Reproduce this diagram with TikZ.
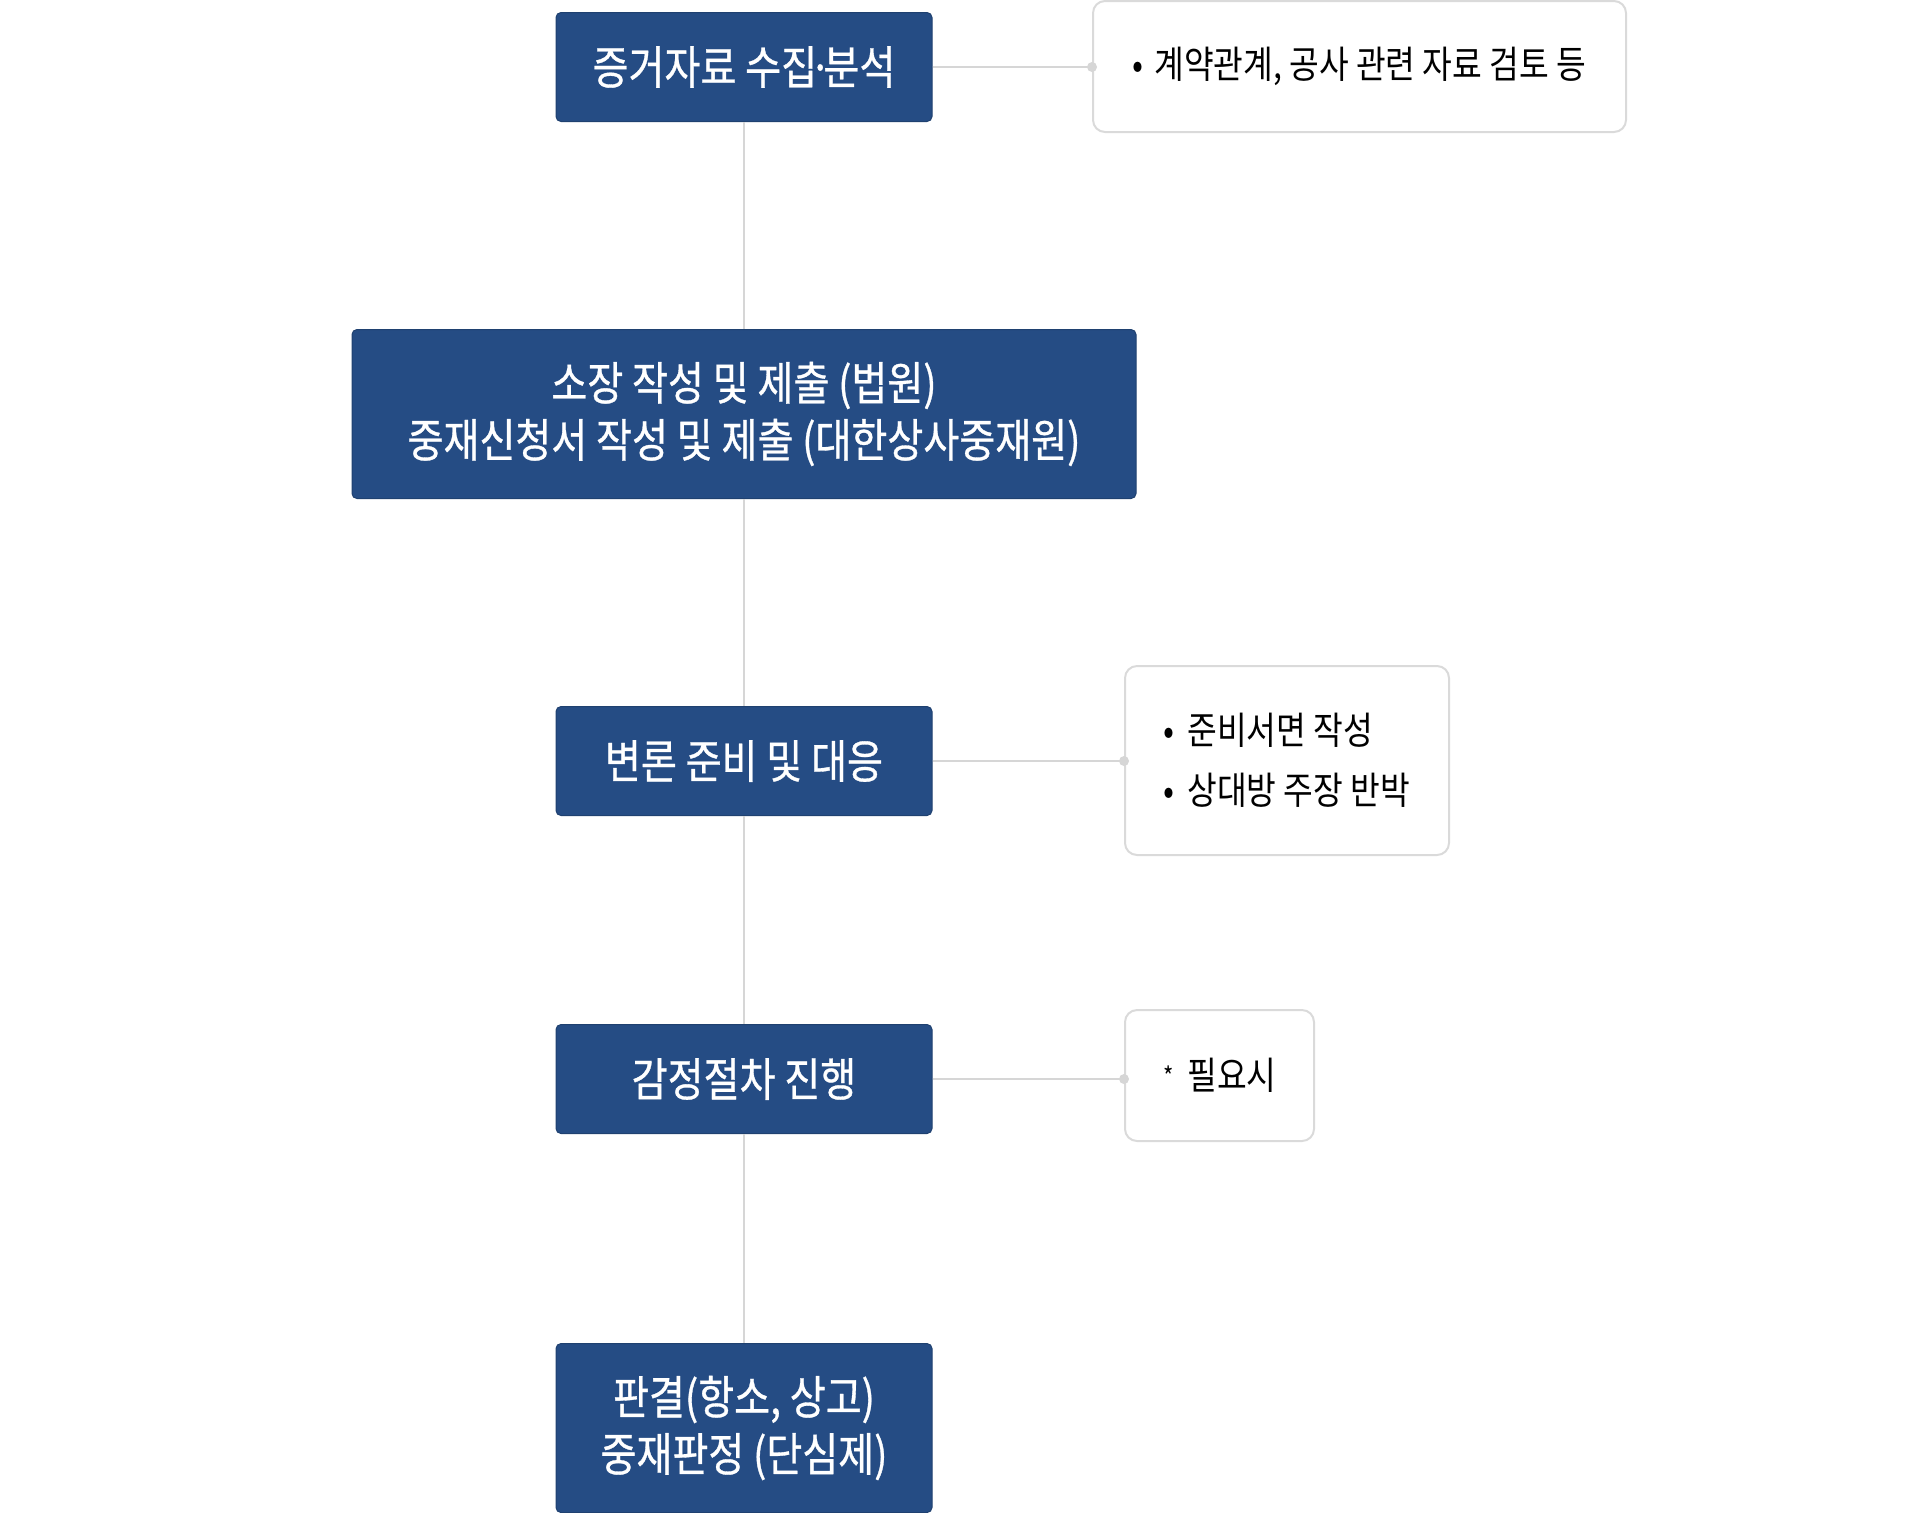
\documentclass[tikz,border=0pt]{standalone}
\usepackage{fontspec}
\newfontfamily\kr[FakeStretch=0.85]{Noto Sans CJK KR}
\newfontfamily\krm[FakeStretch=0.85,FakeBold=0.7]{Noto Sans CJK KR}
\definecolor{boxblue}{HTML}{254C84}
\definecolor{notegray}{HTML}{DADADA}
\definecolor{linegray}{HTML}{D6D6D6}
\begin{document}
\begin{tikzpicture}[x=0.5pt,y=-0.5pt,
  stepbox/.style={fill=boxblue, draw=boxblue!85!black, line width=0.5pt, rounded corners=2.5pt,
    text=white, align=center, font=\krm\fontsize{23}{28.5}\selectfont,
    minimum width=188pt, minimum height=54.5pt, inner sep=0pt},
  notebox/.style={draw=notegray, line width=1pt, fill=white, rounded corners=6pt, inner sep=0pt},
  notetext/.style={anchor=west, inner sep=0pt, font=\kr\fontsize{19}{29}\selectfont, text=black, align=left},
  conn/.style={draw=linegray, line width=1.1pt},
  dot/.style={circle, fill=linegray, inner sep=0pt, minimum size=5pt}]
\useasboundingbox (0,0) rectangle (1920,1512);

% main steps
\node[stepbox] (b1) at (744,67) {증거자료 수집\kern-0.17em·\kern-0.17em분석};
\node[stepbox, minimum width=392pt, minimum height=84.5pt] (b2) at (744,414) {소장 작성 및 제출 (법원)\\중재신청서 작성 및 제출 (대한상사중재원)};
\node[stepbox] (b3) at (744,761) {변론 준비 및 대응};
\node[stepbox] (b4) at (744,1079) {감정절차 진행};
\node[stepbox, minimum height=84.5pt] (b5) at (744,1428) {판결(항소, 상고)\\중재판정 (단심제)};

% notes
\node[notebox, minimum width=266.5pt, minimum height=65.5pt] (n1) at (1359.5,66.5) {};
\node[notetext] (t1) at (1132,66) {\makebox[11pt][l]{•}계약관계, 공사 관련 자료 검토 등};

\node[notebox, minimum width=162pt, minimum height=94.5pt] (n3) at (1287,760.5) {};
\node[notetext] (t3) at (1163,760) {\makebox[12pt][l]{•}준비서면 작성\\[1pt]\makebox[12pt][l]{•}상대방 주장 반박};

\node[notebox, minimum width=94.5pt, minimum height=65.5pt] (n4) at (1219.5,1075.5) {};
\node[notetext] (t4) at (1163,1075) {\makebox[12pt][l]{\raisebox{1.5pt}{\fontsize{13}{13}\selectfont *}}필요시};

% vertical spine
\draw[conn] (b1.south) -- (b2.north);
\draw[conn] (b2.south) -- (b3.north);
\draw[conn] (b3.south) -- (b4.north);
\draw[conn] (b4.south) -- (b5.north);

% side connectors
\coordinate (c1) at (b1.east -| n1.west);
\coordinate (c3) at (b3.east -| n3.west);
\coordinate (c4) at (b4.east -| n4.west);
\draw[conn] (b1.east) -- (c1);
\draw[conn] (b3.east) -- (c3);
\draw[conn] (b4.east) -- (c4);
\node[dot] (d1) at (c1) {};
\node[dot] (d3) at (c3) {};
\node[dot] (d4) at (c4) {};
\end{tikzpicture}
\end{document}
